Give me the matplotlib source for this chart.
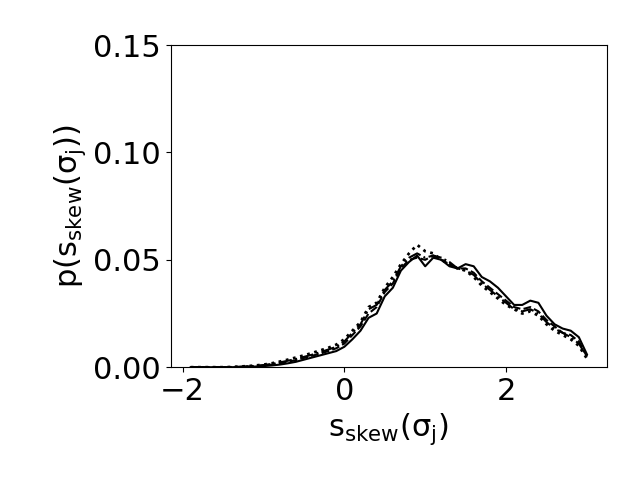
import numpy as np
import matplotlib
matplotlib.use('Agg')
import matplotlib.pyplot as plt

x = np.round(np.arange(-1.9, 3.05, 0.1), 2)

solid = [0.0, 0.0, 0.0, 0.0, 0.0, 0.0, 0.0001, 0.0002, 0.0003,
         0.0005, 0.0008, 0.0012, 0.0018, 0.0025, 0.0035, 0.0045, 0.0055, 0.0065, 0.0075,
         0.0095, 0.013, 0.017, 0.023, 0.025, 0.033, 0.037, 0.045, 0.049, 0.052,
         0.047, 0.051, 0.050, 0.047, 0.046, 0.048, 0.047, 0.042, 0.040, 0.037,
         0.033, 0.029, 0.029, 0.031, 0.030, 0.024, 0.020, 0.018, 0.017, 0.014, 0.006]
dashed = [0.0, 0.0, 0.0, 0.0, 0.0, 0.0, 0.0001, 0.0003, 0.0005,
          0.0008, 0.0012, 0.0018, 0.0025, 0.0033, 0.0043, 0.0053, 0.0063, 0.0075, 0.0088,
          0.011, 0.015, 0.019, 0.025, 0.028, 0.035, 0.039, 0.046, 0.050, 0.051,
          0.050, 0.052, 0.050, 0.048, 0.046, 0.046, 0.044, 0.040, 0.037, 0.034,
          0.031, 0.028, 0.027, 0.028, 0.026, 0.022, 0.019, 0.016, 0.015, 0.012, 0.005]
dashdot = [0.0, 0.0, 0.0, 0.0, 0.0, 0.0001, 0.0002, 0.0004, 0.0006,
           0.001, 0.0015, 0.0022, 0.003, 0.0038, 0.0048, 0.0058, 0.007, 0.0082, 0.0095,
           0.012, 0.016, 0.020, 0.027, 0.029, 0.036, 0.040, 0.047, 0.051, 0.053,
           0.051, 0.052, 0.051, 0.049, 0.046, 0.045, 0.043, 0.039, 0.036, 0.033,
           0.030, 0.027, 0.026, 0.027, 0.025, 0.021, 0.018, 0.016, 0.014, 0.011, 0.005]
dotted = [0.0, 0.0, 0.0, 0.0, 0.0, 0.0001, 0.0003, 0.0005, 0.0008,
          0.0012, 0.0018, 0.0026, 0.0035, 0.0045, 0.0055, 0.0066, 0.0078, 0.009, 0.0105,
          0.013, 0.017, 0.021, 0.028, 0.030, 0.037, 0.042, 0.048, 0.053, 0.057,
          0.054, 0.053, 0.050, 0.048, 0.046, 0.045, 0.042, 0.038, 0.035, 0.032,
          0.029, 0.027, 0.025, 0.026, 0.024, 0.020, 0.017, 0.015, 0.013, 0.010, 0.004]

fig = plt.figure(figsize=(6.4, 4.8), dpi=100)
ax = fig.add_axes([0.267, 0.235, 0.681, 0.671])
ax.plot(x, solid, 'k-', lw=1.5)
ax.plot(x, dashed, 'k--', lw=1.5)
ax.plot(x, dashdot, 'k-.', lw=1.5)
ax.plot(x, dotted, 'k:', lw=2)
ax.set_ylim(0, 0.15)
ax.set_yticks([0, 0.05, 0.10, 0.15])
ax.set_yticklabels(['0.00', '0.05', '0.10', '0.15'])
ax.set_xticks([-2, 0, 2])
ax.tick_params(labelsize=22)
ax.set_xlabel(r'$\mathregular{s_{skew}(\sigma_j)}$', fontsize=22)
ax.set_ylabel(r'$\mathregular{p(s_{skew}(\sigma_j))}$', fontsize=22)
fig.savefig('out.png')
